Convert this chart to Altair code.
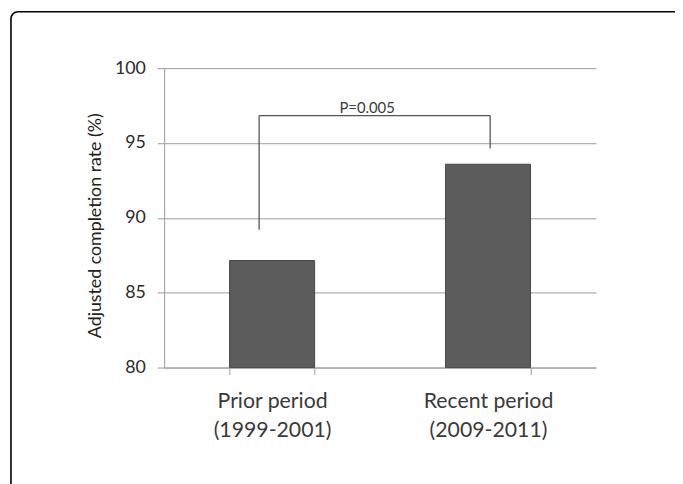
import altair as alt
import pandas as pd

# ---- data ----
categories = ["Prior period\n(1999-2001)", "Recent period\n(2009-2011)"]
rates = [87.15, 93.58]
baseline = [80, 80]
y_ticks = [80, 85, 90, 95, 100]
y_title = "Adjusted completion rate (%)"
p_label = ["P=0.005"]
bracket_low_left = 89.2
bracket_top = 96.83
bracket_low_right = 94.63

# annotation placement (fractions of the two-slot x range)
LX, RX, TX = 0.44, 1.51, 0.94

FONT = "Lato"
TEXT = "#3a3a3a"
GRID = "#9a9a9a"

bars_df = pd.DataFrame({"period": categories, "rate": rates, "base": baseline})
bracket_df = pd.DataFrame({
    "x": [LX, LX, RX],
    "x2": [LX, RX, RX],
    "y": [bracket_low_left, bracket_top, bracket_low_right],
    "y2": [bracket_top, bracket_top, bracket_top],
})
label_df = pd.DataFrame({"x": [TX], "y": [bracket_top], "t": p_label})

yscale = alt.Scale(domain=[80, 100], nice=False, zero=False)

border = alt.Chart(alt.Data(values=[{"a": 1}])).mark_rect(
    fill="white", fillOpacity=0, stroke="black", strokeWidth=1.6, cornerRadius=7
).encode(
    x=alt.value(-155), x2=alt.value(720), y=alt.value(-57), y2=alt.value(600)
)

bars = alt.Chart(bars_df).mark_bar(
    color="#5c5c5c", stroke="#474747", strokeWidth=1
).encode(
    x=alt.X("period:N", sort=categories,
            scale=alt.Scale(paddingInner=0.606, paddingOuter=0.303),
            axis=alt.Axis(title=None, labelAngle=0, grid=False,
                          labelExpr="split(datum.label, '\\n')",
                          labelFont=FONT, labelFontSize=21.5, labelColor=TEXT,
                          labelLineHeight=30, labelPadding=16,
                          labelBaseline="top",
                          domainColor=GRID, tickColor=GRID, tickSize=7,
                          tickBand="extent")),
    y=alt.Y("rate:Q", scale=yscale,
            axis=alt.Axis(values=y_ticks, title=y_title, grid=True,
                          gridColor=GRID, gridWidth=1,
                          domainColor=GRID, tickColor=GRID, tickSize=7,
                          labelFont=FONT, labelFontSize=18, labelColor="#2a2a2a",
                          labelPadding=12,
                          titleFont=FONT, titleFontSize=18, titleFontWeight="normal",
                          titleColor="#222222", titleAngle=-90,
                          titleBaseline="middle", titleAlign="center",
                          titleX=-69, titleY=159)),
    y2="base:Q",
)

xq = alt.Scale(domain=[0, 2], nice=False, zero=False)

bracket = alt.Chart(bracket_df).mark_rule(color="#555555", strokeWidth=1.3).encode(
    x=alt.X("x:Q", scale=xq, axis=None),
    x2="x2:Q",
    y=alt.Y("y:Q", scale=yscale),
    y2="y2:Q",
)

label = alt.Chart(label_df).mark_text(
    font=FONT, fontSize=15, color=TEXT, baseline="alphabetic", align="center", dy=-3
).encode(
    x=alt.X("x:Q", scale=xq, axis=None),
    y=alt.Y("y:Q", scale=yscale),
    text="t:N",
)

chart = alt.layer(border, bars, bracket, label).resolve_scale(
    x="independent"
).properties(
    width=437, height=303,
    padding={"left": 158, "top": 58, "right": 80, "bottom": 115},
    autosize=alt.AutoSizeParams(type="none"),
).configure(font=FONT).configure_view(strokeWidth=0)

chart.save("out.html", embed_options={"renderer": "svg", "actions": False})
